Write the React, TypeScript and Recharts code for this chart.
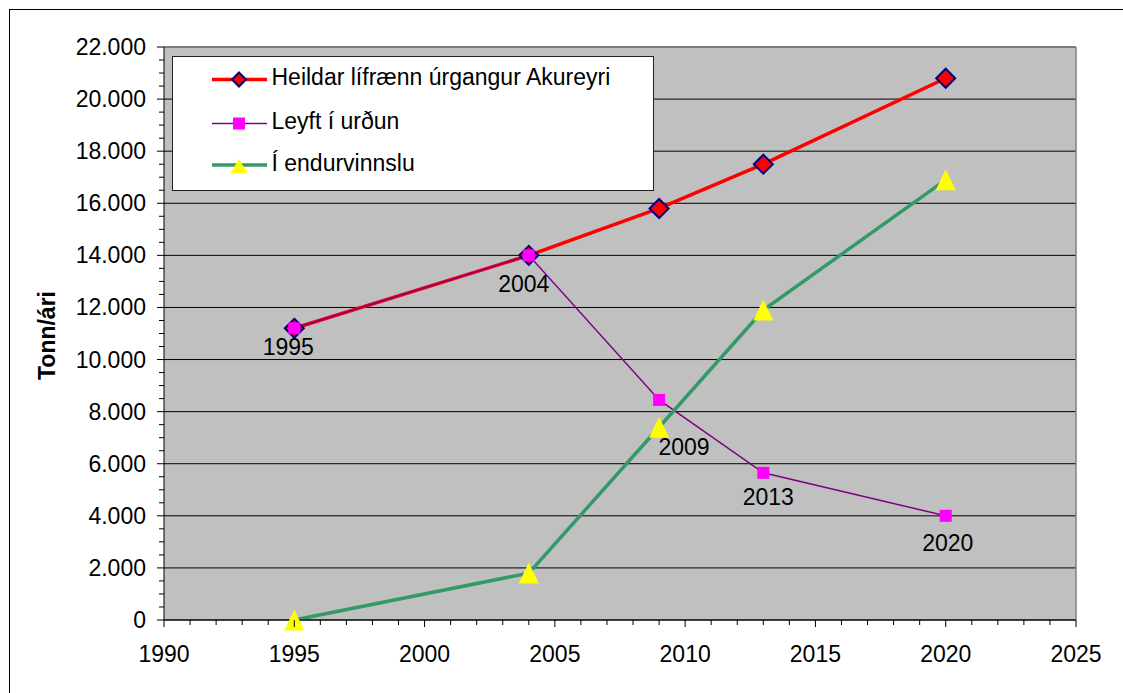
import React from 'react';
import { LineChart, Line, XAxis, YAxis, CartesianGrid, ReferenceLine, LabelList } from 'recharts';

// ---- data ----
const YEARS = [1995, 2004, 2009, 2013, 2020];
const TOTAL = [11200, 14000, 15800, 17500, 20800];
const LANDFILL = [11200, 14000, 8450, 5650, 4000];
const RECYCLE = [0, 1800, 7400, 11900, 16900];
const POINT_LABELS = ['1995', '2004', '2009', '2013', '2020'];

const SERIES_NAMES = ['Heildar lífrænn úrgangur Akureyri', 'Leyft í urðun', 'Í endurvinnslu'];
const Y_TITLE = 'Tonn/ári';

const X_MAJOR = [1990, 1995, 2000, 2005, 2010, 2015, 2020, 2025];
const X_TICKS = Array.from({ length: 36 }, (_, i) => 1990 + i);
const Y_MAJOR = [0, 2000, 4000, 6000, 8000, 10000, 12000, 14000, 16000, 18000, 20000, 22000];
const Y_TICKS = Array.from({ length: 45 }, (_, i) => i * 500);

const rows = YEARS.map((year, i) => ({
  year,
  total: TOTAL[i],
  landfill: LANDFILL[i],
  recycle: RECYCLE[i],
  label: POINT_LABELS[i],
}));

// ---- style ----
const FONT = 'Liberation Sans, Arial, sans-serif';
const FS = 23;
const RED = '#FF0000';
const NAVY = '#000080';
const PURPLE = '#800080';
const MAGENTA = '#FF00FF';
const GREEN = '#339966';
const YELLOW = '#FFFF00';
// label offsets (dx, dy) relative to the "Leyft í urðun" points
const LABEL_OFFSETS = [[-6, 19], [-5, 29], [25, 47], [5, 24], [2, 27]];

const fmt = (v: number) => (v === 0 ? '0' : `${v / 1000}.000`);

const Diamond = ({ cx, cy, r = 9.5 }: any) => (
  <polygon
    points={`${cx},${cy - r} ${cx + r},${cy} ${cx},${cy + r} ${cx - r},${cy}`}
    fill={RED}
    stroke={NAVY}
    strokeWidth={2}
  />
);
const Square = ({ cx, cy, s = 12 }: any) => (
  <rect x={cx - s / 2} y={cy - s / 2} width={s} height={s} fill={MAGENTA} />
);
const Triangle = ({ cx, cy, w = 20, h = 21 }: any) => (
  <polygon points={`${cx},${cy - h / 2} ${cx + w / 2},${cy + h / 2} ${cx - w / 2},${cy + h / 2}`} fill={YELLOW} />
);

const YTick = (props: any) => {
  const { x, y, payload } = props;
  const v = payload.value;
  const major = v % 2000 === 0;
  return (
    <g>
      <line x1={x - (major ? 7 : 5)} x2={x} y1={y} y2={y} stroke="#000" strokeWidth={1} />
      {major && (
        <text x={x - 18} y={y} textAnchor="end" dominantBaseline="central" fontFamily={FONT} fontSize={FS} fill="#000">
          {fmt(v)}
        </text>
      )}
    </g>
  );
};

const XTick = (props: any) => {
  const { x, y, payload } = props;
  const v = payload.value;
  const major = X_MAJOR.includes(v);
  return (
    <g>
      <line x1={x} x2={x} y1={y} y2={y + (major ? 7 : 5)} stroke="#000" strokeWidth={1} />
      {major && (
        <text x={x} y={y + 34} textAnchor="middle" dominantBaseline="central" fontFamily={FONT} fontSize={FS} fill="#000">
          {v}
        </text>
      )}
    </g>
  );
};

const YTitle = (props: any) => {
  const vb = props.viewBox || { x: 0, y: 47, width: 164, height: 573 };
  const cy = vb.y + vb.height / 2 + 2;
  const cx = 47;
  return (
    <text
      x={cx}
      y={cy}
      transform={`rotate(-90 ${cx} ${cy})`}
      textAnchor="middle"
      dominantBaseline="central"
      fontFamily={FONT}
      fontSize={FS}
      fontWeight="bold"
      fill="#000"
    >
      {Y_TITLE}
    </text>
  );
};

const PointLabel = (props: any) => {
  const { x, y, index, value } = props;
  const [dx, dy] = LABEL_OFFSETS[index] || [0, 24];
  return (
    <text x={x + dx} y={y + dy} textAnchor="middle" dominantBaseline="central" fontFamily={FONT} fontSize={FS} fill="#000">
      {value}
    </text>
  );
};

const LegendBox = () => {
  const rowsY = [79.5, 123.5, 165];
  const baselines = [85, 129, 171];
  return (
    <svg
      width={482}
      height={135}
      style={{ position: 'absolute', left: 172, top: 56 }}
    >
      <rect x={0.5} y={0.5} width={481} height={134} fill="#fff" stroke="#222" strokeWidth={1} />
      {SERIES_NAMES.map((name, i) => {
        const cy = rowsY[i] - 56;
        const x1 = 40;
        const x2 = 95;
        const mx = 67;
        return (
          <g key={name}>
            {i === 0 && (
              <>
                <line x1={x1} x2={x2} y1={cy} y2={cy} stroke={RED} strokeWidth={3.5} />
                <Diamond cx={mx} cy={cy} r={7} />
              </>
            )}
            {i === 1 && (
              <>
                <line x1={x1} x2={x2} y1={cy} y2={cy} stroke={PURPLE} strokeWidth={1.5} />
                <Square cx={mx} cy={cy} s={12} />
              </>
            )}
            {i === 2 && (
              <>
                <line x1={x1} x2={x2} y1={cy} y2={cy} stroke={GREEN} strokeWidth={3.5} />
                <Triangle cx={mx} cy={cy + 1} w={17} h={14} />
              </>
            )}
            <text x={99.5} y={baselines[i] - 56} fontFamily={FONT} fontSize={FS} fill="#000">
              {name}
            </text>
          </g>
        );
      })}
    </svg>
  );
};

export default function App() {
  return (
    <div style={{ position: 'absolute', left: 0, top: 0, width: 1123, height: 693, overflow: 'hidden', background: '#fff' }}>
      <div
        style={{
          position: 'absolute',
          left: 9,
          top: 9,
          width: 1300,
          height: 900,
          borderLeft: '1px solid #000',
          borderTop: '1px solid #000',
        }}
      />
      <div style={{ position: 'absolute', left: 0, top: 0 }}>
        <LineChart width={1123} height={693} data={rows} margin={{ top: 47, right: 47, bottom: 0, left: 0 }}>
          <CartesianGrid
            vertical={false}
            horizontalValues={Y_MAJOR}
            stroke="#000"
            strokeWidth={1}
            fill="#C0C0C0"
            fillOpacity={1}
          />
          <XAxis
            dataKey="year"
            type="number"
            domain={[1990, 2025]}
            ticks={X_TICKS}
            interval={0}
            tickSize={0}
            tickMargin={0}
            tickLine={false}
            axisLine={{ stroke: '#000', strokeWidth: 1 }}
            tick={XTick}
            height={73}
          />
          <YAxis
            type="number"
            domain={[0, 22000]}
            ticks={Y_TICKS}
            interval={0}
            tickSize={0}
            tickMargin={0}
            tickLine={false}
            axisLine={{ stroke: '#000', strokeWidth: 1 }}
            tick={YTick}
            width={164}
            label={{ content: YTitle }}
          />
          <ReferenceLine y={22000} stroke="#808080" strokeWidth={1.5} />
          <ReferenceLine x={2025} stroke="#808080" strokeWidth={1.5} />
          <Line
            dataKey="total"
            name={SERIES_NAMES[0]}
            stroke={RED}
            strokeWidth={3.5}
            isAnimationActive={false}
            activeDot={false}
            dot={(p: any) => <Diamond key={`d${p.index}`} cx={p.cx} cy={p.cy} />}
          />
          <Line
            dataKey="landfill"
            name={SERIES_NAMES[1]}
            stroke={PURPLE}
            strokeWidth={1.5}
            isAnimationActive={false}
            activeDot={false}
            dot={(p: any) => <Square key={`s${p.index}`} cx={p.cx} cy={p.cy} />}
          >
            <LabelList dataKey="label" content={PointLabel} />
          </Line>
          <Line
            dataKey="recycle"
            name={SERIES_NAMES[2]}
            stroke={GREEN}
            strokeWidth={3.5}
            isAnimationActive={false}
            activeDot={false}
            dot={(p: any) => <Triangle key={`t${p.index}`} cx={p.cx} cy={p.cy} />}
          />
        </LineChart>
      </div>
      <LegendBox />
    </div>
  );
}
